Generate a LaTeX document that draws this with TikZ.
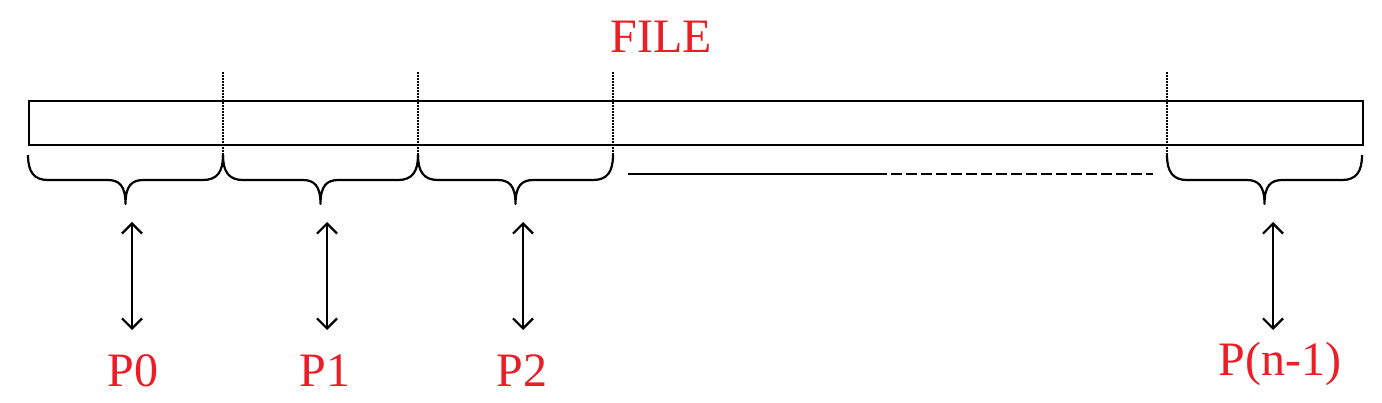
\documentclass[tikz,border=0pt]{standalone}
\usepackage{fontspec}
\setmainfont{Liberation Serif}
\usetikzlibrary{arrows.meta}
\definecolor{lblred}{RGB}{234,30,38}
\tikzset{
  lbl/.style={text=lblred, font=\fontsize{48}{50}\selectfont, anchor=base, inner sep=0pt},
  sepline/.style={line width=1.3pt, dash pattern=on 1.6pt off 1.4pt},
  bracepath/.style={line width=2.2pt, line join=round},
  dblarrow/.style={line width=2.2pt, {Straight Barb[length=10pt,width=20pt,line width=2.2pt]}-{Straight Barb[length=10pt,width=20pt,line width=2.2pt]}},
}
\begin{document}
\begin{tikzpicture}[x=1pt,y=-1pt]
\useasboundingbox (0,0) rectangle (1382,403);
% file box
\node[draw, line width=2.2pt, minimum width=1334pt, minimum height=44pt, inner sep=0pt, anchor=north west] (file) at (28,100) {};
\node[lbl] (filelbl) at (661,53) {FILE};
% separators
\foreach \x/\n in {223/s1,418/s2,613/s3,1167/s4}{
  \coordinate (\n t) at (\x,72);
  \coordinate (\n b) at (\x,155);
  \draw[sepline] (\n t) -- (\n b);
}
% braces
\foreach \a/\b in {28/223,223/418,418/613,1167/1362}{
  \pgfmathsetmacro{\m}{(\a+\b)/2}
  \draw[bracepath] (\a,155) .. controls (\a,172) and (\a+6,180) .. (\a+20,180)
     -- (\m-18,180) .. controls (\m-6,180) and (\m,186) .. (\m,204)
     .. controls (\m,186) and (\m+6,180) .. (\m+18,180)
     -- (\b-20,180) .. controls (\b-6,180) and (\b,172) .. (\b,155);
}
% ellipsis line
\coordinate (l1) at (628,174);
\coordinate (l2) at (876,174);
\coordinate (l3) at (1153,174);
\draw[line width=2.2pt] (l1) -- (l2);
\draw[line width=2.2pt, dash pattern=on 11pt off 4pt] (l2) -- (l3);
% labels
\node[lbl] (p0) at (133,387) {P0};
\node[lbl] (p1) at (325,387) {P1};
\node[lbl] (p2) at (522,387) {P2};
\node[lbl] (pn) at (1280,375) {P(n-1)};
% arrows
\foreach \x/\n/\bt in {132/p0/330,327/p1/330,523/p2/330,1273/pn/330}{
  \coordinate (\n top) at (\x,222);
  \coordinate (\n bot) at (\x,\bt);
  \draw[dblarrow] (\n top) -- (\n bot);
}
\end{tikzpicture}
\end{document}
